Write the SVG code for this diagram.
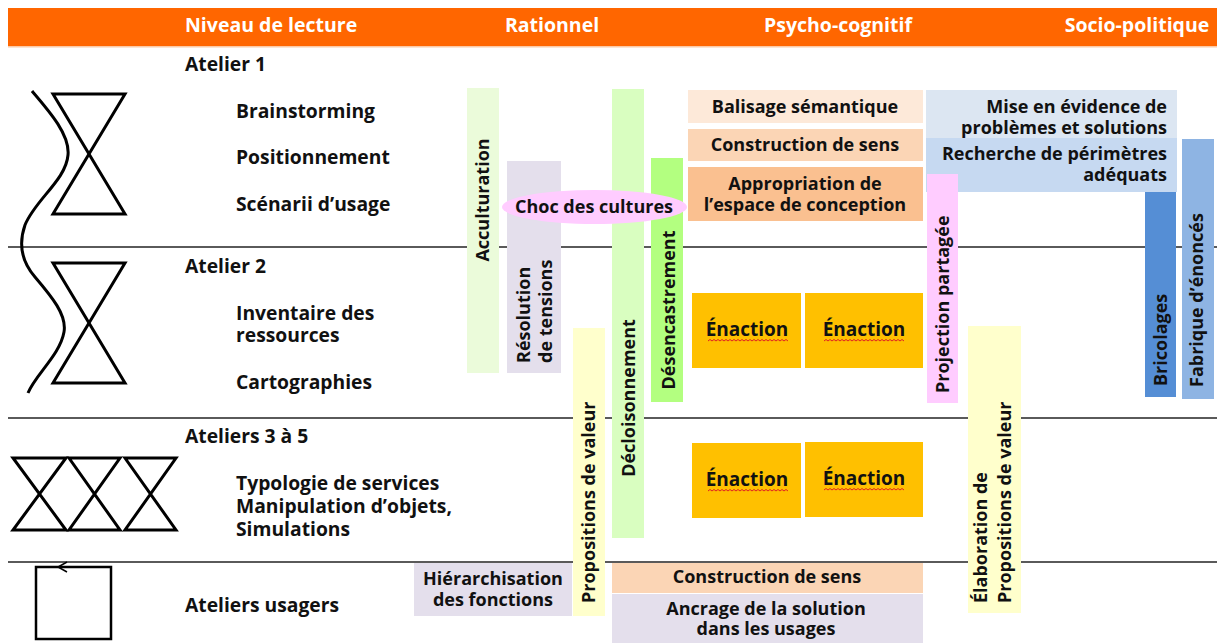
<svg xmlns="http://www.w3.org/2000/svg" width="1217" height="643" viewBox="0 0 1217 643">
<style>
text{font-family:"Open Sans","Noto Sans","Liberation Sans",sans-serif;font-weight:700;font-size:18px;fill:#111}
.hd{fill:#fff;font-size:19.5px}
.lb{font-size:19.3px}
.en{font-size:19px}
.c{text-anchor:middle}
.e{text-anchor:end}
.sep{stroke:#5a5a5a;stroke-width:2}
.ic{fill:none;stroke:#000;stroke-width:3;stroke-linejoin:miter}
.wv{fill:none;stroke:#e02020;stroke-width:1}
</style>
<rect x="0" y="0" width="1217" height="643" fill="#fff"/>
<g id="header">
<rect x="8" y="8" width="1209" height="38" fill="#ff6600"/>
<rect x="8" y="46" width="1209" height="1.5" fill="#fbcaa6"/>
<text class="hd" x="185" y="32">Niveau de lecture</text>
<text class="hd c" x="552" y="32">Rationnel</text>
<text class="hd c" x="838" y="32">Psycho-cognitif</text>
<text class="hd c" x="1137" y="32">Socio-politique</text>
</g>
<g id="separators">
<line class="sep" x1="8" y1="247" x2="1217" y2="247"/>
<line class="sep" x1="8" y1="418" x2="1217" y2="418"/>
<line class="sep" x1="8" y1="562" x2="1217" y2="562"/>
</g>
<g id="icons">
<path class="ic" d="M32,91 C50,112 70,135 68,155 C66,180 35,200 25,225 C18,245 22,262 35,277 C52,297 67,315 64,332 C60,355 35,375 28,393"/>
<polygon class="ic" points="53,94 125,94 53,214 125,214"/>
<polygon class="ic" points="53,263 125,263 53,383 125,383"/>
<polygon class="ic" points="13,458 66,458 13,530 66,530"/>
<polygon class="ic" points="69,458 120,458 69,530 120,530"/>
<polygon class="ic" points="125,458 176,458 125,530 176,530"/>
<rect x="36" y="567" width="75" height="72" fill="none" stroke="#000" stroke-width="2.5"/>
<polyline points="67,562 58,567 67,572" fill="none" stroke="#000" stroke-width="1.5"/>
</g>
<g id="labels">
<text class="lb" x="185" y="71">Atelier 1</text>
<text class="lb" x="236" y="118">Brainstorming</text>
<text class="lb" x="236" y="164">Positionnement</text>
<text class="lb" x="236" y="211">Scénarii d’usage</text>
<text class="lb" x="185" y="273">Atelier 2</text>
<text class="lb" x="236" y="320">Inventaire des</text>
<text class="lb" x="236" y="342">ressources</text>
<text class="lb" x="236" y="389">Cartographies</text>
<text class="lb" x="185" y="443">Ateliers 3 à 5</text>
<text class="lb" x="236" y="490">Typologie de services</text>
<text class="lb" x="236" y="513">Manipulation d’objets,</text>
<text class="lb" x="236" y="536">Simulations</text>
<text class="lb" x="185" y="612">Ateliers usagers</text>
</g>
<g id="acculturation">
<rect x="467" y="88" width="32" height="285" fill="#ebfbda"/>
<text class="c" transform="translate(489,200) rotate(-90)">Acculturation</text>
</g>
<g id="resolution">
<rect x="507" y="161" width="54" height="212" fill="#e4dfec"/>
<text transform="translate(530,363) rotate(-90)">Résolution</text>
<text transform="translate(552,363) rotate(-90)">de tensions</text>
</g>
<g id="propositions">
<rect x="573" y="328" width="32" height="288" fill="#ffffcc"/>
<text transform="translate(595,603) rotate(-90)">Propositions de valeur</text>
</g>
<g id="decloisonnement">
<rect x="612" y="89" width="32" height="449" fill="#d9fec0"/>
<text class="c" transform="translate(635,398) rotate(-90)">Décloisonnement</text>
</g>
<g id="desencastrement">
<rect x="651" y="158" width="32" height="244" fill="#b3ff80"/>
<text class="c" transform="translate(675,310) rotate(-90)">Désencastrement</text>
</g>
<g id="choc">
<ellipse cx="594.5" cy="207" rx="92.5" ry="17" fill="#ffccff"/>
<text class="c" x="594" y="213">Choc des cultures</text>
</g>
<g id="balisage">
<rect x="688" y="90" width="235" height="33" fill="#fde9d9"/>
<text class="c" x="805" y="113">Balisage sémantique</text>
</g>
<g id="construction1">
<rect x="688" y="129" width="235" height="32" fill="#fbd5b5"/>
<text class="c" x="805" y="151">Construction de sens</text>
</g>
<g id="appropriation">
<rect x="688" y="167" width="235" height="54" fill="#fac090"/>
<text class="c" x="805" y="190">Appropriation de</text>
<text class="c" x="805" y="211">l’espace de conception</text>
</g>
<g id="enaction1">
<rect x="692" y="293" width="109" height="75" fill="#ffc000"/>
<text class="c en" x="747" y="336">Énaction</text>
<path class="wv" d="M708,341 l2,-1.5 l2,1.5 l2,-1.5 l2,1.5 l2,-1.5 l2,1.5 l2,-1.5 l2,1.5 l2,-1.5 l2,1.5 l2,-1.5 l2,1.5 l2,-1.5 l2,1.5 l2,-1.5 l2,1.5 l2,-1.5 l2,1.5 l2,-1.5 l2,1.5 l2,-1.5 l2,1.5 l2,-1.5 l2,1.5 l2,-1.5 l2,1.5 l2,-1.5 l2,1.5 l2,-1.5 l2,1.5 l2,-1.5 l2,1.5 l2,-1.5 l2,1.5 l2,-1.5 l2,1.5 l2,-1.5 l2,1.5 l2,-1.5 l2,1.5"/>
</g>
<g id="enaction2">
<rect x="805" y="293" width="118" height="75" fill="#ffc000"/>
<text class="c en" x="864" y="336">Énaction</text>
<path class="wv" d="M824,341 l2,-1.5 l2,1.5 l2,-1.5 l2,1.5 l2,-1.5 l2,1.5 l2,-1.5 l2,1.5 l2,-1.5 l2,1.5 l2,-1.5 l2,1.5 l2,-1.5 l2,1.5 l2,-1.5 l2,1.5 l2,-1.5 l2,1.5 l2,-1.5 l2,1.5 l2,-1.5 l2,1.5 l2,-1.5 l2,1.5 l2,-1.5 l2,1.5 l2,-1.5 l2,1.5 l2,-1.5 l2,1.5 l2,-1.5 l2,1.5 l2,-1.5 l2,1.5 l2,-1.5 l2,1.5 l2,-1.5 l2,1.5 l2,-1.5 l2,1.5"/>
</g>
<g id="enaction3">
<rect x="692" y="443" width="109" height="75" fill="#ffc000"/>
<text class="c en" x="747" y="486">Énaction</text>
<path class="wv" d="M708,491 l2,-1.5 l2,1.5 l2,-1.5 l2,1.5 l2,-1.5 l2,1.5 l2,-1.5 l2,1.5 l2,-1.5 l2,1.5 l2,-1.5 l2,1.5 l2,-1.5 l2,1.5 l2,-1.5 l2,1.5 l2,-1.5 l2,1.5 l2,-1.5 l2,1.5 l2,-1.5 l2,1.5 l2,-1.5 l2,1.5 l2,-1.5 l2,1.5 l2,-1.5 l2,1.5 l2,-1.5 l2,1.5 l2,-1.5 l2,1.5 l2,-1.5 l2,1.5 l2,-1.5 l2,1.5 l2,-1.5 l2,1.5 l2,-1.5 l2,1.5"/>
</g>
<g id="enaction4">
<rect x="805" y="442" width="118" height="75" fill="#ffc000"/>
<text class="c en" x="864" y="485">Énaction</text>
<path class="wv" d="M824,490 l2,-1.5 l2,1.5 l2,-1.5 l2,1.5 l2,-1.5 l2,1.5 l2,-1.5 l2,1.5 l2,-1.5 l2,1.5 l2,-1.5 l2,1.5 l2,-1.5 l2,1.5 l2,-1.5 l2,1.5 l2,-1.5 l2,1.5 l2,-1.5 l2,1.5 l2,-1.5 l2,1.5 l2,-1.5 l2,1.5 l2,-1.5 l2,1.5 l2,-1.5 l2,1.5 l2,-1.5 l2,1.5 l2,-1.5 l2,1.5 l2,-1.5 l2,1.5 l2,-1.5 l2,1.5 l2,-1.5 l2,1.5 l2,-1.5 l2,1.5"/>
</g>
<g id="mise">
<rect x="926" y="90" width="251" height="48" fill="#dce6f2"/>
<text class="e" x="1167" y="113">Mise en évidence de</text>
<text class="e" x="1167" y="134">problèmes et solutions</text>
</g>
<g id="recherche">
<rect x="926" y="138" width="251" height="54" fill="#c6d9f1"/>
<text class="e" x="1167" y="160">Recherche de périmètres</text>
<text class="e" x="1167" y="181">adéquats</text>
</g>
<g id="projection">
<rect x="927" y="174" width="31" height="229" fill="#ffccff"/>
<text transform="translate(949,393) rotate(-90)">Projection partagée</text>
</g>
<g id="elaboration">
<rect x="968" y="326" width="53" height="287" fill="#ffffcc"/>
<text transform="translate(987,603) rotate(-90)">Élaboration de</text>
<text transform="translate(1011,603) rotate(-90)">Propositions de valeur</text>
</g>
<g id="bricolages">
<rect x="1145" y="192" width="31" height="205" fill="#558ed5"/>
<text transform="translate(1167,386) rotate(-90)">Bricolages</text>
</g>
<g id="fabrique">
<rect x="1182" y="139" width="32" height="260" fill="#8eb4e3"/>
<text transform="translate(1203,387) rotate(-90)">Fabrique d’énoncés</text>
</g>
<g id="hierarchisation">
<rect x="414" y="563" width="158" height="53" fill="#e4dfec"/>
<text class="c" x="493" y="585">Hiérarchisation</text>
<text class="c" x="493" y="606">des fonctions</text>
</g>
<g id="construction2">
<rect x="612" y="563" width="311" height="30" fill="#fbd5b5"/>
<text class="c" x="767" y="583">Construction de sens</text>
</g>
<g id="ancrage">
<rect x="612" y="594" width="311" height="49" fill="#e4dfec"/>
<text class="c" x="766" y="615">Ancrage de la solution</text>
<text class="c" x="766" y="635">dans les usages</text>
</g>
<g id="connectors"></g>
</svg>
